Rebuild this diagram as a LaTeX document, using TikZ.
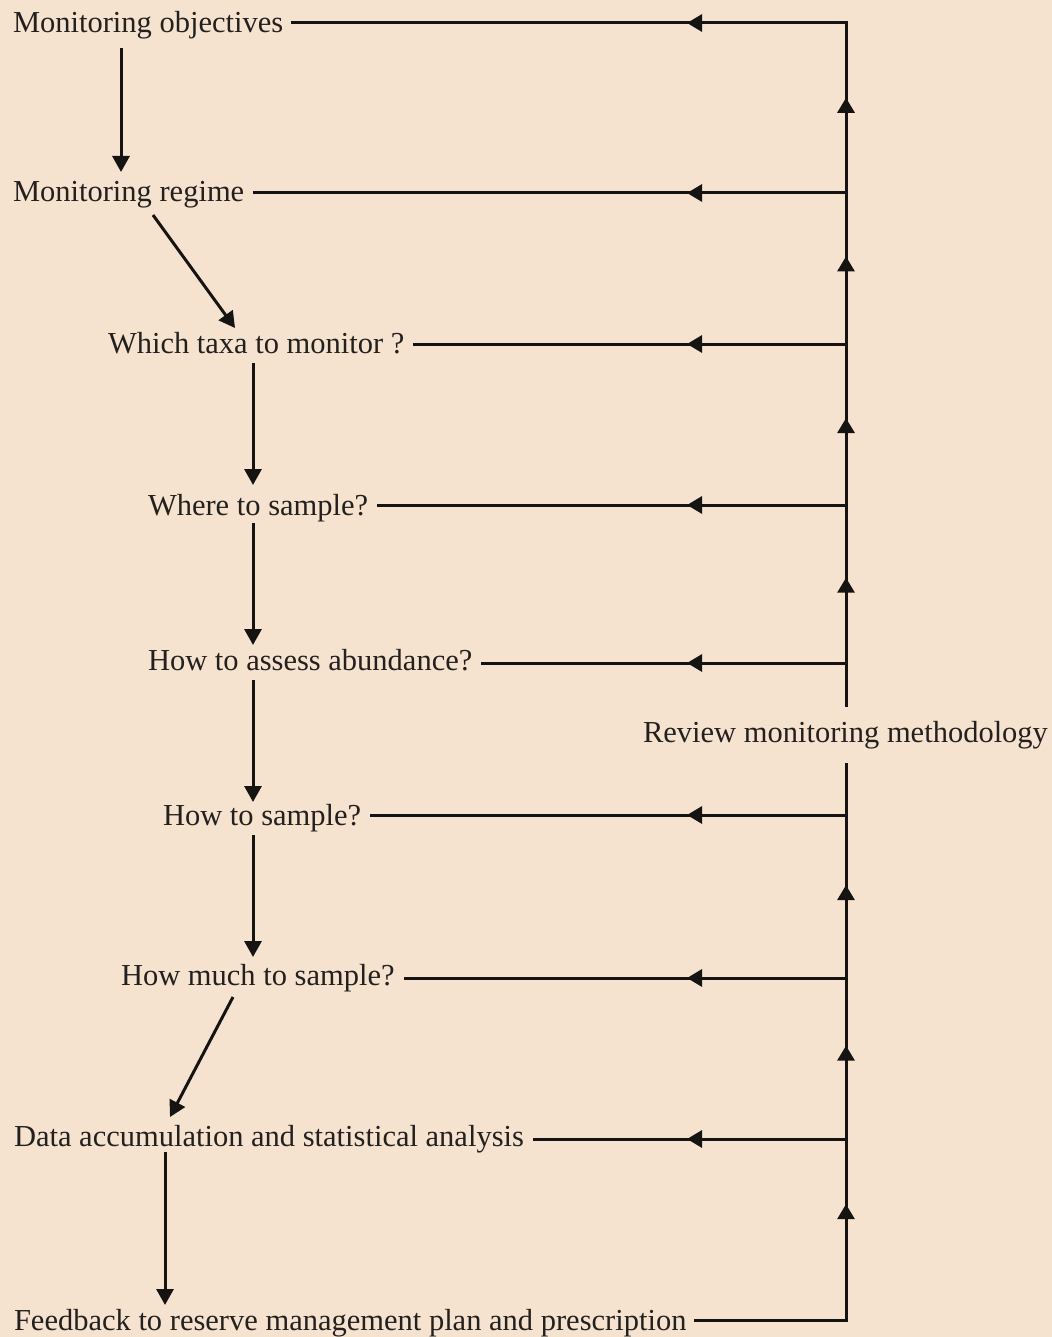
\documentclass[tikz,border=0pt]{standalone}
\usepackage{fontspec}
\setmainfont{Liberation Serif}
\usetikzlibrary{arrows.meta,calc,decorations.markings}
\definecolor{bg}{RGB}{245,227,208}
\definecolor{ink}{RGB}{22,20,18}
\definecolor{txt}{RGB}{35,32,30}
\begin{document}
\begin{tikzpicture}[x=0.5pt,y=-0.5pt,
  lbl/.style={anchor=base west,inner sep=0pt,outer sep=0pt,text=txt,font=\fontsize{15.25pt}{18pt}\selectfont},
  ln/.style={draw=ink,line width=1.5pt},
  arr/.style={ln,-{Triangle[length=8pt,width=8.5pt]}},
  midarrow/.style={decoration={markings,mark=at position #1 with {\arrow{Triangle[length=7.5pt,width=8.5pt]}}},postaction={decorate}},
  feed/.style={ln,shorten >=4.5pt,decoration={markings,mark=at position 79.5pt with {\arrow{Triangle[length=7.5pt,width=8.5pt]}}},postaction={decorate}}
]
\fill[bg] (0,0) rectangle (1052,1337);
\useasboundingbox (0,0) rectangle (1052,1337);

% text nodes
\node[lbl] (obj) at (13,33) {Monitoring objectives};
\node[lbl] (regime) at (13,202) {Monitoring regime};
\node[lbl] (taxa) at (108,353) {Which taxa to monitor ?};
\node[lbl] (where) at (148,515) {Where to sample?};
\node[lbl] (assess) at (148,670) {How to assess abundance?};
\node[lbl,outer ysep=7pt] (review) at (643,742) {Review monitoring methodology};
\node[lbl] (howto) at (163,825) {How to sample?};
\node[lbl] (howmuch) at (121,985) {How much to sample?};
\node[lbl] (data) at (14,1146) {Data accumulation and statistical analysis};
\node[lbl] (fb) at (14,1330) {Feedback to reserve management plan and prescription};

% spine junctions
\coordinate (s1) at (846,23);
\coordinate (s2) at (846,193);
\coordinate (s3) at (846,344);
\coordinate (s4) at (846,505);
\coordinate (s5) at (846,663);
\coordinate (s7) at (846,815);
\coordinate (s8) at (846,978);
\coordinate (s9) at (846,1139);
\coordinate (s10) at (846,1320);

% downward flow
\draw[arr] ($(obj.base west)+(108,15)$) -- ($(regime.base west)+(108,-30)$);
\draw[arr] ($(regime.base west)+(140,13)$) -- ($(taxa.base west)+(127,-25)$);
\draw[arr] ($(taxa.base west)+(145,10)$) -- ($(where.base west)+(105,-30)$);
\draw[arr] ($(where.base west)+(105,8)$) -- ($(assess.base west)+(105,-25)$);
\draw[arr] ($(assess.base west)+(105,10)$) -- ($(howto.base west)+(90,-23)$);
\draw[arr] ($(howto.base west)+(90,10)$) -- ($(howmuch.base west)+(132,-28)$);
\draw[arr] ($(howmuch.base west)+(112,12)$) -- ($(data.base west)+(156,-29)$);
\draw[arr] ($(data.base west)+(151,6)$) -- ($(fb.base west)+(151,-25)$);

% feedback spine
\draw[ln,line cap=rect,shorten <=4.5pt] (fb.east |- s10) -- (s10);
\draw[ln,line cap=rect,midarrow=0.64] (s10) -- (s9);
\draw[ln,midarrow=0.58] (s9) -- (s8);
\draw[ln,midarrow=0.57] (s8) -- (s7);
\draw[ln] (s7) -- (review.south -| s7);
\draw[ln] (review.north -| s5) -- (s5);
\draw[ln,midarrow=0.54] (s5) -- (s4);
\draw[ln,midarrow=0.54] (s4) -- (s3);
\draw[ln,midarrow=0.58] (s3) -- (s2);
\draw[ln,line cap=rect,midarrow=0.56] (s2) -- (s1);

% horizontal returns
\draw[feed,line cap=rect] (s1) -- (obj.east |- s1);
\draw[feed] (s2) -- (regime.east |- s2);
\draw[feed] (s3) -- (taxa.east |- s3);
\draw[feed] (s4) -- (where.east |- s4);
\draw[feed] (s5) -- (assess.east |- s5);
\draw[feed] (s7) -- (howto.east |- s7);
\draw[feed] (s8) -- (howmuch.east |- s8);
\draw[feed] (s9) -- (data.east |- s9);
\end{tikzpicture}
\end{document}
